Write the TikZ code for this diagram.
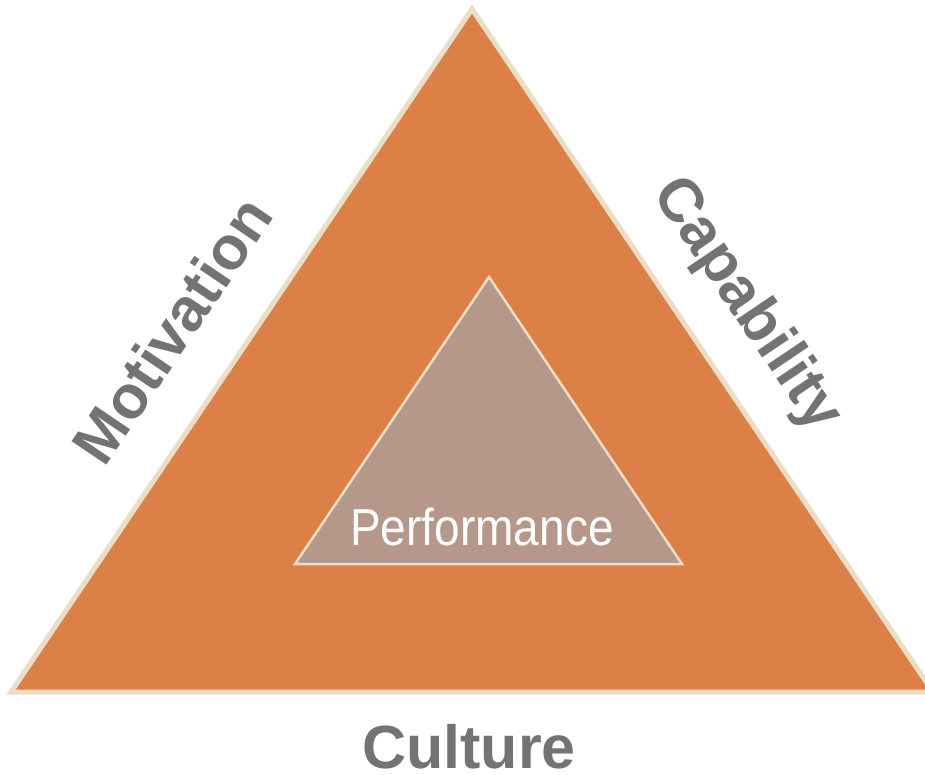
\documentclass[tikz,border=0pt]{standalone}
\usepackage{fontspec}
\setmainfont{Liberation Sans}
\definecolor{orangefill}{RGB}{221,128,71}
\definecolor{beige}{RGB}{236,222,196}
\definecolor{innerfill}{RGB}{181,152,138}
\definecolor{labelgray}{RGB}{115,115,115}
\tikzset{
  outertri/.style={fill=orangefill, draw=beige, line width=5pt, line join=miter},
  innertri/.style={fill=innerfill, draw=beige, line width=2.5pt, line join=miter},
  sidelabel/.style={text=labelgray, font=\bfseries\fontsize{61}{62}\selectfont, inner sep=0pt, anchor=base},
  centerlabel/.style={text=white, font=\fontsize{52}{53}\selectfont, inner sep=0pt, anchor=base, xscale=0.885}
}
\begin{document}
\begin{tikzpicture}[x=1pt,y=-1pt]
\useasboundingbox (0,0) rectangle (925,774);
\fill[white] (0,0) rectangle (925,774);
\coordinate (oa) at (472,9);
\coordinate (ol) at (11,692);
\coordinate (or) at (933,692);
\draw[outertri] (oa) -- (ol) -- (or) -- cycle;
\coordinate (ia) at (489,277);
\coordinate (il) at (295,564);
\coordinate (ir) at (682,564);
\draw[innertri] (ia) -- (il) -- (ir) -- cycle;
\node[centerlabel] (perf) at (482,545) {Performance};
\node[sidelabel] (culture) at (469,768) {Culture};
\node[sidelabel, rotate=56] (motiv) at (190,342) {Motivation};
\node[sidelabel, rotate=-56] (capab) at (733,314) {Capability};
\end{tikzpicture}
\end{document}
